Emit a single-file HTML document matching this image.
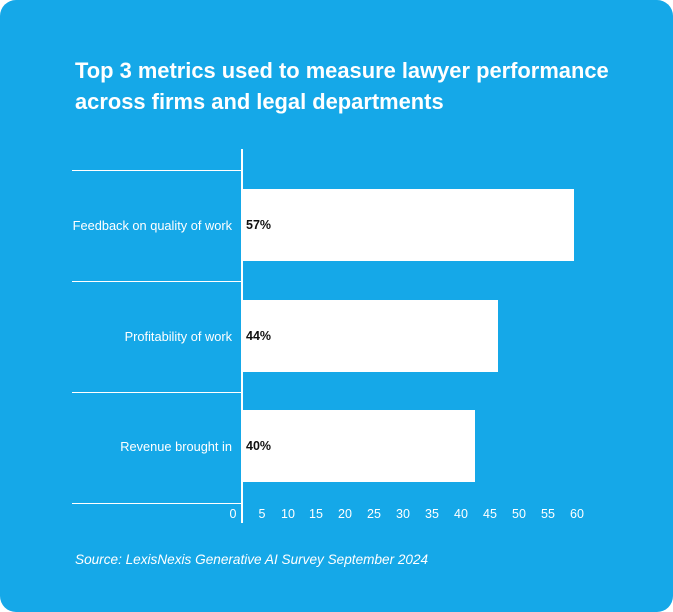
<!DOCTYPE html>
<html><head><style>
body{margin:0;background:#fff;width:673px;height:612px;overflow:hidden;font-family:"Liberation Sans",sans-serif}
.card{position:absolute;left:0;top:0;width:673px;height:612px;background:#15a8e8;border-radius:16px}
.t{position:absolute;color:#fff}
.h{position:absolute;height:1px;background:#fff;left:72px;width:170px}
.bar{position:absolute;left:243px;background:#fff;height:72px}
.lbl{position:absolute;right:441px;color:#fff;font-size:12.8px;white-space:nowrap}
.val{position:absolute;left:246px;font-size:12.5px;font-weight:bold;color:#111}
.tk{position:absolute;top:507px;color:#fff;font-size:12.5px;width:30px;text-align:center}
</style></head><body>
<div class="card"></div>
<div class="t" style="left:75px;top:55px;font-size:21.9px;font-weight:bold;line-height:31px">Top 3 metrics used to measure lawyer performance<br>across firms and legal departments</div>
<div style="position:absolute;left:241px;top:149px;width:2px;height:374px;background:#fff"></div>
<div class="h" style="top:170px"></div><div class="h" style="top:281px"></div><div class="h" style="top:392px"></div><div class="h" style="top:503px"></div>
<div class="bar" style="top:189px;width:331px"></div>
<div class="bar" style="top:300px;width:255px"></div>
<div class="bar" style="top:410px;width:232px"></div>
<div class="lbl" style="top:218px">Feedback on quality of work</div>
<div class="lbl" style="top:329px">Profitability of work</div>
<div class="lbl" style="top:439px">Revenue brought in</div>
<div class="val" style="top:218px">57%</div>
<div class="val" style="top:329px">44%</div>
<div class="val" style="top:439px">40%</div>
<div class="tk" style="left:218px">0</div><div class="tk" style="left:247px">5</div><div class="tk" style="left:273px">10</div><div class="tk" style="left:301px">15</div><div class="tk" style="left:330px">20</div><div class="tk" style="left:359px">25</div><div class="tk" style="left:388px">30</div><div class="tk" style="left:417px">35</div><div class="tk" style="left:446px">40</div><div class="tk" style="left:475px">45</div><div class="tk" style="left:504px">50</div><div class="tk" style="left:533px">55</div><div class="tk" style="left:562px">60</div>
<div class="t" style="left:75px;top:552px;font-size:13.6px;font-style:italic">Source: LexisNexis Generative AI Survey September 2024</div>
</body></html>
